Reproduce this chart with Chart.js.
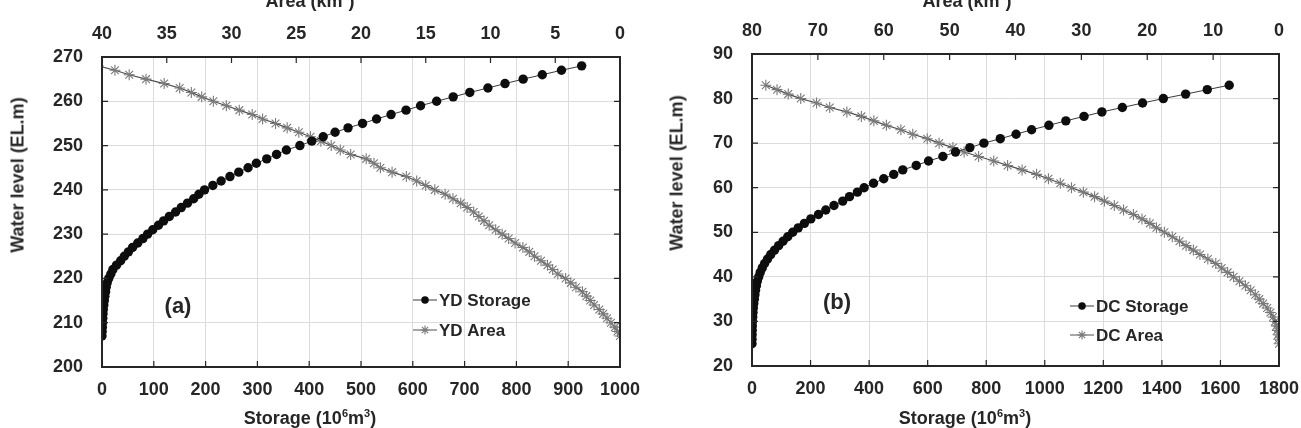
<!DOCTYPE html>
<html>
<head>
<meta charset="utf-8">
<script src="https://cdn.jsdelivr.net/npm/chart.js@4.4.1/dist/chart.umd.min.js"></script>
<style>
body{margin:0;background:#fff;width:1301px;height:428px;overflow:hidden;position:relative;font-family:"Liberation Sans",Arial,sans-serif;font-weight:bold;color:#262626}
canvas{position:absolute;top:0}
.t{position:absolute;font-size:18px;white-space:nowrap;transform:translate(-50%,-50%)}
.yt{transform:translate(-50%,-50%) rotate(-90deg)}
.p{font-size:22px}
sup{font-size:11px}
</style>
</head>
<body>
<canvas id="chartA" width="645" height="428" style="left:0"></canvas>
<canvas id="chartB" width="651" height="428" style="left:650px"></canvas>

<div class="t" style="left:310px;top:1px">Area (km<sup>2</sup>)</div>
<div class="t yt" style="left:18px;top:175px">Water level (EL.m)</div>
<div class="t" style="left:310px;top:418px">Storage (10<sup>6</sup>m<sup>3</sup>)</div>
<div class="t p" style="left:178px;top:306px">(a)</div>

<div class="t" style="left:967px;top:1px">Area (km<sup>2</sup>)</div>
<div class="t yt" style="left:677px;top:173px">Water level (EL.m)</div>
<div class="t" style="left:965px;top:418px">Storage (10<sup>6</sup>m<sup>3</sup>)</div>
<div class="t p" style="left:837px;top:302px">(b)</div>

<script>
// (a) YD reservoir: water level (m), storage (10^6 m3), area (km2)
var ydLevel = [207,208,209,210,211,212,213,214,215,216,217,218,219,220,221,222,223,224,225,226,
  227,228,229,230,231,232,233,234,235,236,237,238,239,240,241,242,243,244,245,246,
  247,248,249,250,251,252,253,254,255,256,257,258,259,260,261,262,263,264,265,266,267,268];
var ydStorage = [0,0.3,0.6,1,1.5,2,2.5,3.5,4.5,5.5,7,8,10,13,17,21,28,36,43,51,
  59,69,79,88,98,109,119,130,142,153,165,177,187,198,214,230,247,264,282,298,
  318,337,356,382,405,427,450,475,503,530,558,587,615,646,678,710,745,778,813,850,887,926];
var ydArea = [0.0,0.2,0.4,0.7,1.0,1.3,1.6,2.0,2.3,2.6,2.9,3.4,3.8,4.2,4.8,5.2,5.6,6.1,6.6,7.0,
  7.5,8.1,8.6,9.1,9.6,10.1,10.5,10.9,11.3,11.8,12.3,12.9,13.5,14.3,15.0,15.7,16.5,17.6,18.5,19.0,
  19.6,20.8,21.6,22.3,23.1,23.9,24.8,25.7,26.6,27.6,28.4,29.4,30.4,31.4,32.3,33.1,34.0,35.2,36.6,37.9,39.0,40.3];

// (b) DC reservoir
var dcLevel = [25,26,27,28,29,30,31,32,33,34,35,36,37,38,39,40,41,42,43,44,
  45,46,47,48,49,50,51,52,53,54,55,56,57,58,59,60,61,62,63,64,
  65,66,67,68,69,70,71,72,73,74,75,76,77,78,79,80,81,82,83];
var dcStorage = [0,0.2,0.4,0.7,1,1.5,2.5,3.5,4.5,6,8,10,12,15,18,23,28,35,43,53,
  64,77,91,106,122,139,158,179,201,227,252,280,310,333,360,383,415,450,484,515,
  561,603,652,695,744,792,848,902,955,1014,1072,1134,1195,1265,1334,1405,1481,1555,1630];
var dcArea = [0.0,0.05,0.15,0.25,0.4,0.6,0.9,1.3,1.8,2.4,3.0,3.6,4.3,5.1,6.0,6.9,7.8,8.7,9.6,10.8,
  12.0,13.0,14.1,15.1,16.2,17.4,18.6,19.6,20.8,22.1,23.6,25.0,26.5,28.0,29.7,31.5,33.2,35.0,36.8,39.0,
  41.2,43.3,45.6,47.8,49.5,51.6,53.4,55.6,57.4,59.6,61.5,63.4,65.6,68.2,70.2,72.6,74.5,76.2,77.9];

var seriesNames = { a: ["YD Storage", "YD Area"], b: ["DC Storage", "DC Area"] };

function toPoints(xs, ys) {
  var pts = [];
  for (var i = 0; i < xs.length; i++) pts.push({ x: xs[i], y: ys[i] });
  return pts;
}

var tickFont = { family: "'Liberation Sans', Arial, sans-serif", size: 18, weight: 'bold' };
// plain numbers, no thousands separator
var plain = function(v) { return String(v); };

// black frame round the plot and short inward tick marks on all four sides
var frameTicks = {
  id: 'frameTicks',
  afterDatasetsDraw: function(chart) {
    var ctx = chart.ctx, a = chart.chartArea, s = chart.scales, len = 6;
    ctx.save();
    ctx.strokeStyle = '#262626';
    ctx.lineWidth = 1.2;
    ctx.beginPath();
    s.x.ticks.forEach(function(t, i) {
      var px = s.x.getPixelForTick(i);
      ctx.moveTo(px, a.bottom); ctx.lineTo(px, a.bottom - len);
    });
    s.x2.ticks.forEach(function(t, i) {
      var px = s.x2.getPixelForTick(i);
      ctx.moveTo(px, a.top); ctx.lineTo(px, a.top + len);
    });
    s.y.ticks.forEach(function(t, i) {
      var py = s.y.getPixelForTick(i);
      ctx.moveTo(a.left, py); ctx.lineTo(a.left + len, py);
      ctx.moveTo(a.right, py); ctx.lineTo(a.right - len, py);
    });
    ctx.stroke();
    ctx.lineWidth = 2;
    ctx.strokeRect(a.left, a.top, a.right - a.left, a.bottom - a.top);
    ctx.restore();
  }
};

// small legend inside the plot
var innerLegend = {
  id: 'innerLegend',
  afterDraw: function(chart, args, opts) {
    var ctx = chart.ctx;
    ctx.save();
    chart.data.datasets.forEach(function(ds, i) {
      var x = opts.x, y = opts.y + i * opts.gap;
      ctx.strokeStyle = ds.borderColor;
      ctx.lineWidth = 1;
      ctx.beginPath(); ctx.moveTo(x, y); ctx.lineTo(x + 24, y); ctx.stroke();
      ctx.fillStyle = ds.pointBackgroundColor;
      ctx.strokeStyle = ds.pointBorderColor;
      ctx.lineWidth = ds.pointBorderWidth;
      Chart.helpers.drawPoint(ctx, { pointStyle: ds.pointStyle, radius: ds.pointRadius * 0.8, rotation: 0, borderWidth: ds.pointBorderWidth }, x + 12, y);
      ctx.fillStyle = '#262626';
      ctx.font = "bold 17px 'Liberation Sans', Arial, sans-serif";
      ctx.textBaseline = 'middle';
      ctx.fillText(ds.label, x + 26, y + 1);
    });
    ctx.restore();
  }
};

function makeChart(id, o) {
  return new Chart(document.getElementById(id), {
    type: 'scatter',
    data: {
      datasets: [
        {
          label: o.names[0],
          data: toPoints(o.storage, o.level),
          xAxisID: 'x', yAxisID: 'y',
          showLine: true,
          borderColor: '#3a3a3a', borderWidth: 1,
          pointStyle: 'circle', pointRadius: 4.7,
          pointBackgroundColor: '#0d0d0d', pointBorderColor: '#0d0d0d', pointBorderWidth: 0
        },
        {
          label: o.names[1],
          data: toPoints(o.area, o.level),
          xAxisID: 'x2', yAxisID: 'y',
          showLine: true,
          borderColor: '#505050', borderWidth: 1.2,
          pointStyle: 'star', pointRadius: 5.5,
          pointBackgroundColor: '#777', pointBorderColor: '#7a7a7a', pointBorderWidth: 1.1
        }
      ]
    },
    options: {
      responsive: false,
      animation: false,
      events: [],
      layout: { padding: { left: 0, top: 0, bottom: 0, right: o.padRight } },
      plugins: {
        legend: { display: false },
        tooltip: { enabled: false },
        innerLegend: o.legend
      },
      scales: {
        x: {
          type: 'linear', position: 'bottom',
          min: o.sMin, max: o.sMax,
          afterFit: function(s) { s.height = o.bottomH; s.paddingLeft = 0; s.paddingRight = 0; },
          border: { display: false },
          grid: { color: '#dcdcdc', lineWidth: 1, drawTicks: false },
          ticks: { stepSize: o.sStep, padding: 12, color: '#262626', font: tickFont, maxRotation: 0, autoSkip: false, callback: plain }
        },
        x2: {
          type: 'linear', position: 'top', reverse: true,
          min: o.aMin, max: o.aMax,
          afterFit: function(s) { s.height = o.topH; s.paddingLeft = 0; s.paddingRight = 0; },
          border: { display: false },
          grid: { drawOnChartArea: false, drawTicks: false },
          ticks: { stepSize: o.aStep, padding: 12, color: '#262626', font: tickFont, maxRotation: 0, autoSkip: false, callback: plain }
        },
        y: {
          type: 'linear', position: 'left',
          min: o.lMin, max: o.lMax,
          afterFit: function(s) { s.width = 102; s.paddingTop = 0; s.paddingBottom = 0; },
          border: { display: false },
          grid: { color: '#dcdcdc', lineWidth: 1, drawTicks: false },
          ticks: { stepSize: 10, padding: 19, color: '#262626', font: tickFont, autoSkip: false, callback: plain }
        }
      }
    },
    plugins: [frameTicks, innerLegend]
  });
}

makeChart('chartA', {
  names: seriesNames.a, level: ydLevel, storage: ydStorage, area: ydArea,
  sMin: 0, sMax: 1000, sStep: 100, aMin: 0, aMax: 40, aStep: 5, lMin: 200, lMax: 270,
  padRight: 25, topH: 57, bottomH: 61,
  legend: { x: 413, y: 300, gap: 30 }
});

makeChart('chartB', {
  names: seriesNames.b, level: dcLevel, storage: dcStorage, area: dcArea,
  sMin: 0, sMax: 1800, sStep: 200, aMin: 0, aMax: 80, aStep: 10, lMin: 20, lMax: 90,
  padRight: 22, topH: 54, bottomH: 62,
  legend: { x: 420, y: 306, gap: 29 }
});
</script>
</body>
</html>
